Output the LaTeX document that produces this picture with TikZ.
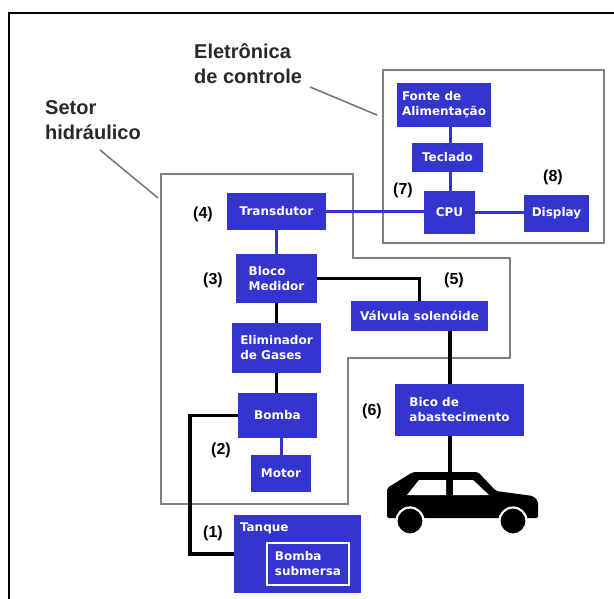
\documentclass[tikz,border=0pt]{standalone}
\usepackage{fontspec}
\setmainfont{Liberation Sans}
\newfontfamily\boxfont{DejaVu Sans}
\definecolor{fillblue}{RGB}{52,52,206}
\definecolor{sectorgray}{RGB}{125,130,125}
\definecolor{leadergray}{RGB}{120,120,120}
\definecolor{titlegray}{RGB}{40,40,40}
\begin{document}
\begin{tikzpicture}[x=1pt,y=-1pt,
  box/.style={fill=fillblue, text=white, align=left, inner sep=0pt,
    font=\boxfont\bfseries\fontsize{12}{15}\selectfont},
  num/.style={font=\bfseries\fontsize{16}{19}\selectfont, inner sep=0pt},
  title/.style={font=\bfseries\fontsize{20}{25}\selectfont, text=titlegray,
    align=left, inner sep=0pt},
  sector/.style={draw=sectorgray, line width=2.4pt},
  leader/.style={draw=leadergray, line width=1.6pt},
  bluelink/.style={draw=fillblue, line width=3pt},
  pipe/.style={draw=black, line width=3.6pt}]
\useasboundingbox (0,0) rectangle (614,599);

% outer frame (top and left edges)
\draw[line width=2pt] (9,599) -- (9,13) -- (614,13);

% titles and their leader lines
\node[title, anchor=north west] (setor) at (45,100) {Setor\\hidráulico};
\node[title, anchor=north west] (eletr) at (194,43) {Eletrônica\\de controle};
\coordinate (setorend) at (158,198);
\coordinate (eletrend) at (377,115);
\draw[leader] (100,150) -- (setorend);
\draw[leader] (310,87) -- (eletrend);

% hydraulic sector and control electronics outlines
\draw[sector] (161,174) -- (353,174) -- (353,258) -- (510,258) -- (510,358)
  -- (348,358) -- (348,504) -- (161,504) -- cycle;
\draw[sector] (383,70) rectangle (604,243);

% control electronics blocks
\node[box, minimum width=94pt, minimum height=44pt] (fonte) at (444,105) {Fonte de\\Alimentação};
\node[box, minimum width=71pt, minimum height=29pt] (teclado) at (447.5,157.5) {Teclado};
\node[box, minimum width=51pt, minimum height=43pt] (cpu) at (449.5,212.5) {CPU};
\node[box, minimum width=65pt, minimum height=37pt] (display) at (556.5,213.5) {Display};

% hydraulic blocks
\node[box, minimum width=99pt, minimum height=37pt] (trans) at (276.5,211.5) {Transdutor};
\node[box, minimum width=81pt, minimum height=49pt] (bloco) at (276.5,278.5) {Bloco\\Medidor};
\node[box, minimum width=89pt, minimum height=50pt] (elim) at (276.5,348) {Eliminador\\de Gases};
\node[box, minimum width=79pt, minimum height=45pt] (bomba) at (277.5,415.5) {Bomba};
\node[box, minimum width=60pt, minimum height=37pt] (motor) at (281,473.5) {Motor};
\node[box, minimum width=137pt, minimum height=30pt] (valvula) at (419.5,316) {Válvula solenóide};
\node[box, minimum width=129pt, minimum height=52pt] (bico) at (459.5,410) {Bico de\\abastecimento};

% tank with submerged pump
\node[box, minimum width=127pt, minimum height=78pt] (tanque) at (297.5,554) {};
\node[box, fill=none, anchor=north west] (tanquetxt) at ([shift={(6,8)}]tanque.north west) {Tanque};
\node[box, draw=white, line width=1.8pt, minimum width=82pt, minimum height=42pt] (submersa) at (308,564) {Bomba\\submersa};

% numbered labels
\node[num] (n1) at (213,533) {(1)};
\node[num] (n2) at (221,450) {(2)};
\node[num] (n3) at (213,280) {(3)};
\node[num] (n4) at (203,214) {(4)};
\node[num] (n5) at (454,280) {(5)};
\node[num] (n6) at (372,411) {(6)};
\node[num] (n7) at (403,190) {(7)};
\node[num] (n8) at (553,177) {(8)};

% signal links
\draw[bluelink] (trans.east) -- (trans.east -| cpu.west);
\draw[bluelink] (cpu.east) -- (cpu.east -| display.west);
\draw[bluelink] (fonte.south -| teclado.north) ++(3,0) coordinate (fs) -- (teclado.north -| fs);
\draw[bluelink] (teclado.south -| fs) -- (cpu.north -| fs);
\draw[bluelink] (trans.south) -- (bloco.north);
\draw[bluelink] (bomba.south -| motor.north) -- (motor.north);

% fuel lines
\coordinate (pipex) at (190,0);
\coordinate (nozzle) at (450,0);
\draw[pipe] (bloco.east) -- (bloco.east -| valvula.north) -- (valvula.north);
\draw[pipe] (bloco.south) -- (elim.north);
\draw[pipe] (elim.south) -- (bomba.north -| elim.south);
\draw[pipe] (bomba.west) -- (bomba.west -| pipex) |- (tanque.west);
\draw[pipe] (valvula.south -| nozzle) -- (bico.north -| nozzle);
\coordinate (roof) at (450,473);
\draw[pipe] (bico.south -| nozzle) -- (roof);

% car
\fill[black, rounded corners=2pt] (387,518) -- (387,488) -- (413,472) -- (478,472)
  -- (496,491) -- (533,496) -- (538,501) -- (538,518) -- cycle;
\fill[white] (407,495) -- (419,480) -- (446,480) -- (446,495) -- cycle;
\fill[white] (453,480) -- (473,480) -- (489,495) -- (453,495) -- cycle;
\filldraw[fill=black, draw=white, line width=2.2pt] (410,521) circle (13.5);
\filldraw[fill=black, draw=white, line width=2.2pt] (513,521) circle (13.5);
\end{tikzpicture}
\end{document}
